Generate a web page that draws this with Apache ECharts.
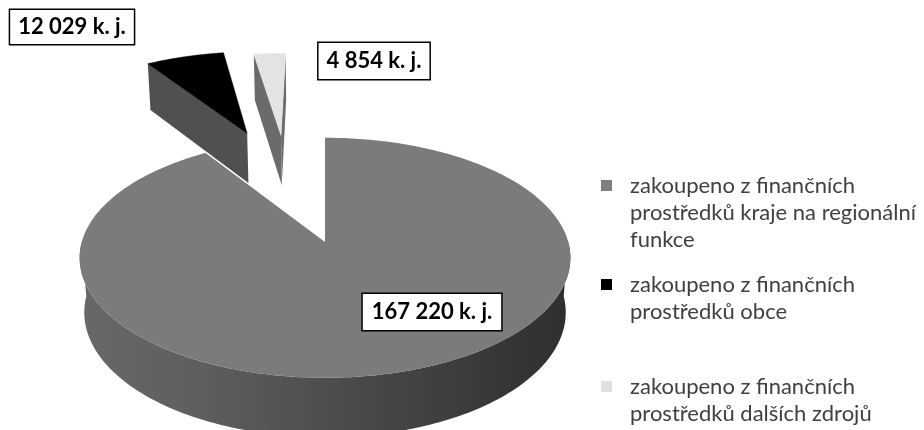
<!doctype html>
<html lang="cs">
<head>
    <meta charset="UTF-8">
    <title>Přírůstky fondu</title>
    <script src="https://cdn.jsdelivr.net/npm/echarts/dist/echarts.min.js"></script>
    <style>
        html, body { margin: 0; padding: 0; background: #fff; }
        #main { width: 924px; height: 430px; }
    </style>
</head>
<body>
<div id="main"></div>
<script>
    // data
    var categories = [
        'zakoupeno z finančních\nprostředků kraje na regionální\nfunkce',
        'zakoupeno z finančních\nprostředků obce',
        'zakoupeno z finančních\nprostředků dalších zdrojů'
    ];
    var values = [167220, 12029, 4854];
    var unit = 'k. j.';

    // look
    var topColors = ['#7b7b7b', '#000000', '#e3e3e3'];
    var cutColors = ['#4a4a4a', '#505050', '#6b6b6b'];
    var legendColors = ['#7f7f7f', '#000000', '#e0e0e0'];
    var explode = [[0, 0], [-0.364, 1.047], [-0.205, 1.025]];
    var labelPos = [[432, 312], [72, 27], [374, 61]];
    var labelPad = [[7, 9], [6, 8], [7, 8]];
    var legendTop = [172, 271, 373];

    // simple perspective camera for the 3d pie
    var cam = { cx: 325, cy: 242, f: 1620, dist: 6.66, tilt: 29 * Math.PI / 180, depth: 0.26 };

    var total = values.reduce(function (a, b) { return a + b; }, 0);
    var cum = [];
    values.reduce(function (acc, v, i) { cum[i] = acc; return acc + v; }, 0);

    function project(x, y, z) {
        var ca = Math.cos(cam.tilt), sa = Math.sin(cam.tilt);
        var up = y * ca + z * sa;
        var fwd = z * ca - y * sa + cam.dist;
        return [cam.cx + cam.f * x / fwd, cam.cy - cam.f * up / fwd];
    }

    function rim(i, deg, y) {
        var t = deg * Math.PI / 180;
        return project(explode[i][0] + Math.sin(t), y, explode[i][1] + Math.cos(t));
    }

    function apex(i, y) {
        return project(explode[i][0], y, explode[i][1]);
    }

    function arc(i, a0, a1, y) {
        var pts = [];
        var n = Math.max(2, Math.ceil(a1 - a0));
        for (var k = 0; k <= n; k++) {
            pts.push(rim(i, a0 + (a1 - a0) * k / n, y));
        }
        return pts;
    }

    function area(pts) {
        var s = 0;
        for (var k = 0; k < pts.length; k++) {
            var p = pts[k], q = pts[(k + 1) % pts.length];
            s += p[0] * q[1] - q[0] * p[1];
        }
        return s;
    }

    function fmt(v) {
        return String(v).replace(/\B(?=(\d{3})+(?!\d))/g, ' ') + ' ' + unit;
    }

    function renderSlice(params, api) {
        var i = params.dataIndex;
        var v = api.value(0);
        var a0 = cum[i] / total * 360;
        var a1 = (cum[i] + v) / total * 360;
        var h = -cam.depth;
        var base = i === 0 ? 100 : 0;
        var children = [];

        // outer wall, front half only
        var w0 = Math.max(a0, 90), w1 = Math.min(a1, 270);
        if (w1 > w0) {
            var wall = arc(i, w0, w1, 0).concat(arc(i, w0, w1, h).reverse());
            children.push({
                type: 'polygon',
                z2: base + 1,
                shape: { points: wall },
                style: {
                    fill: new echarts.graphic.LinearGradient(0, 0, 1, 0, [
                        { offset: 0, color: '#686868' },
                        { offset: 0.25, color: '#5e5e5e' },
                        { offset: 1, color: '#2e2e2e' }
                    ])
                }
            });
        }

        // cut faces, drawn only when they face the viewer
        var startFace = [apex(i, 0), rim(i, a0, 0), rim(i, a0, h), apex(i, h)];
        var endFace = [rim(i, a1, 0), apex(i, 0), apex(i, h), rim(i, a1, h)];
        [startFace, endFace].forEach(function (face) {
            if (area(face) < 0) {
                children.push({
                    type: 'polygon',
                    z2: base + 2,
                    shape: { points: face },
                    style: { fill: cutColors[i] }
                });
            }
        });

        // top face
        var top = [apex(i, 0)].concat(arc(i, a0, a1, 0));
        children.push({
            type: 'polygon',
            z2: base + 3,
            shape: { points: top },
            style: { fill: topColors[i], stroke: i === 0 ? null : topColors[i], lineWidth: 0.5 }
        });

        return { type: 'group', children: children };
    }

    var graphics = [];
    values.forEach(function (v, i) {
        graphics.push({
            type: 'text',
            z: 10,
            x: labelPos[i][0],
            y: labelPos[i][1],
            style: {
                text: fmt(v),
                font: 'bold 22px Lato',
                fill: '#000',
                align: 'center',
                verticalAlign: 'middle',
                backgroundColor: '#fff',
                borderColor: '#000',
                borderWidth: 1.5,
                padding: [labelPad[i][0], labelPad[i][1]]
            }
        });
    });
    categories.forEach(function (name, i) {
        graphics.push({
            type: 'rect',
            shape: { x: 601, y: legendTop[i] + 8, width: 11, height: 11 },
            style: { fill: legendColors[i] }
        });
        graphics.push({
            type: 'text',
            x: 630,
            y: legendTop[i],
            style: {
                text: name,
                font: '22px Lato',
                lineHeight: 27,
                fill: '#404040',
                verticalAlign: 'top'
            }
        });
    });

    var myChart = echarts.init(document.getElementById('main'));
    var option = {
        backgroundColor: '#fff',
        animation: false,
        series: [{
            type: 'custom',
            coordinateSystem: 'none',
            renderItem: renderSlice,
            data: values.map(function (v, i) { return { name: categories[i], value: [v] }; })
        }],
        graphic: graphics
    };
    myChart.setOption(option);
</script>
</body>
</html>
